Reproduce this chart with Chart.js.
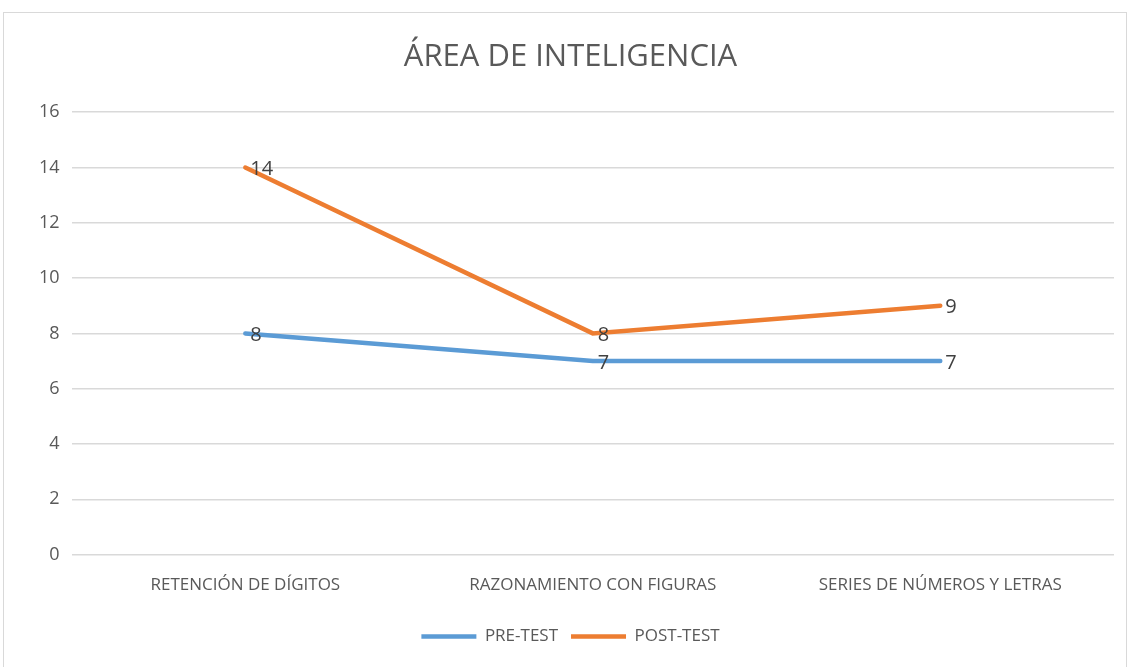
<!DOCTYPE html>
<html>
<head>
<meta charset="utf-8">
<script src="https://cdn.jsdelivr.net/npm/chart.js@4/dist/chart.umd.min.js"></script>
<style>
  html, body { margin: 0; padding: 0; background: #fff; }
  #wrap { position: relative; width: 1130px; height: 667px; }
</style>
</head>
<body>
<div id="wrap"><canvas id="lineGraph" width="1130" height="667"></canvas></div>
<script>
// data
var areaLabels = ["RETENCIÓN DE DÍGITOS", "RAZONAMIENTO CON FIGURAS", "SERIES DE NÚMEROS Y LETRAS"];
var preTest = [8, 7, 7];
var postTest = [14, 8, 9];
var yTicks = [0, 2, 4, 6, 8, 10, 12, 14, 16];

var fontName = "'Open Sans', 'Noto Sans', sans-serif";

// thin frame round the whole chart
var framePlugin = {
    id: 'frame',
    beforeDraw: function (chart) {
        var ctx = chart.ctx;
        ctx.save();
        ctx.fillStyle = '#fff';
        ctx.fillRect(0, 0, chart.width, chart.height);
        ctx.strokeStyle = '#d9d9d9';
        ctx.lineWidth = 1;
        ctx.strokeRect(3.5, 12.5, 1123, 670);
        ctx.restore();
    }
};

// value labels to the right of each point
var valuePlugin = {
    id: 'values',
    afterDatasetsDraw: function (chart) {
        var ctx = chart.ctx;
        ctx.save();
        ctx.font = '20px ' + fontName;
        ctx.fillStyle = '#404040';
        ctx.textAlign = 'left';
        ctx.textBaseline = 'middle';
        chart.data.datasets.forEach(function (ds, i) {
            chart.getDatasetMeta(i).data.forEach(function (pt, j) {
                ctx.fillText(String(ds.data[j]), pt.x + 5, pt.y + 2);
            });
        });
        ctx.restore();
    }
};

var lineConfig = {
    type: 'line',
    data: {
        labels: areaLabels,
        datasets: [{
            label: 'PRE-TEST',
            data: preTest,
            borderColor: '#5B9BD5',
            backgroundColor: '#5B9BD5',
            borderWidth: 4.5,
            borderCapStyle: 'round',
            pointRadius: 0,
            tension: 0
        }, {
            label: 'POST-TEST',
            data: postTest,
            borderColor: '#ED7D31',
            backgroundColor: '#ED7D31',
            borderWidth: 4.5,
            borderCapStyle: 'round',
            pointRadius: 0,
            tension: 0
        }]
    },
    options: {
        responsive: false,
        animation: false,
        layout: { padding: { left: 27, right: 16, top: 18, bottom: 12 } },
        plugins: {
            title: {
                display: true,
                text: 'ÁREA DE INTELIGENCIA',
                color: '#595959',
                font: { family: fontName, size: 31, weight: 'normal' },
                padding: { top: 21, bottom: 36 }
            },
            legend: {
                display: true,
                position: 'bottom',
                labels: {
                    color: '#595959',
                    font: { family: fontName, size: 17 },
                    usePointStyle: true,
                    pointStyle: 'line',
                    pointStyleWidth: 55,
                    boxHeight: 5,
                    padding: 13
                }
            },
            tooltip: { enabled: false }
        },
        scales: {
            x: {
                offset: true,
                grid: { display: false, drawTicks: false },
                border: { display: false },
                ticks: {
                    color: '#595959',
                    font: { family: fontName, size: 17 },
                    padding: 20,
                    maxRotation: 0
                }
            },
            y: {
                min: 0,
                max: 16,
                afterBuildTicks: function (axis) {
                    axis.ticks = yTicks.map(function (v) { return { value: v }; });
                },
                grid: { color: '#d9d9d9', lineWidth: 1.5, drawTicks: false },
                border: { display: false },
                ticks: {
                    color: '#595959',
                    font: { family: fontName, size: 18 },
                    padding: 12
                }
            }
        }
    },
    plugins: [framePlugin, valuePlugin]
};

var lineCtx = document.getElementById('lineGraph');
var lineChart = new Chart(lineCtx, lineConfig);
</script>
</body>
</html>
